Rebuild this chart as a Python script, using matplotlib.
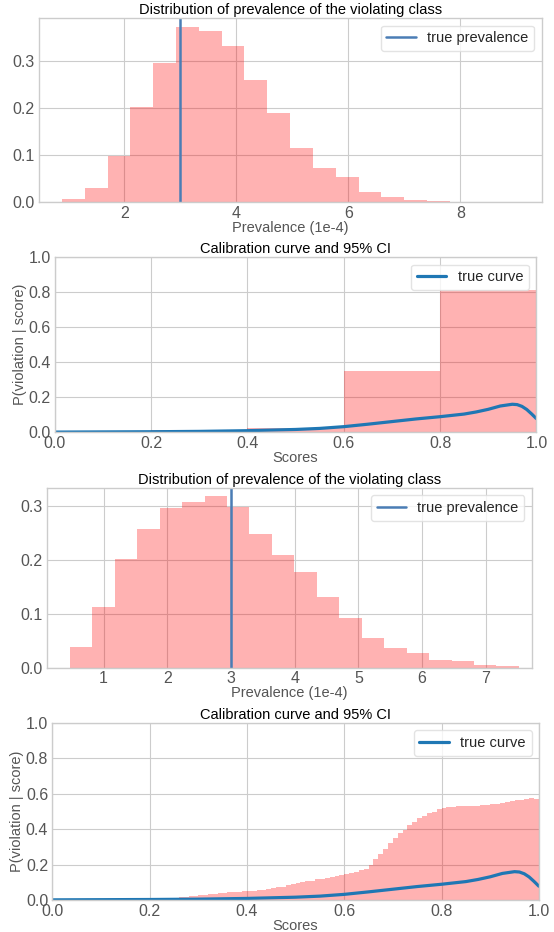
import numpy as np
import matplotlib
matplotlib.use("Agg")
import matplotlib.pyplot as plt


plt.style.use('seaborn-v0_8-whitegrid')
plt.rcParams['font.family'] = ['Liberation Sans', 'DejaVu Sans']
plt.rcParams['font.size'] = 10.5
plt.rcParams['legend.frameon'] = True


# Distribution of prevalence, first run (density per bin)
prev1_edges = np.linspace(0.883, 9.033, 21)
prev1_density = [0.007, 0.030, 0.099, 0.202, 0.297, 0.373, 0.365, 0.333, 0.260, 0.190,
                 0.116, 0.073, 0.054, 0.022, 0.011, 0.005, 0.003, 0.0015, 0.001, 0.0005]

# Distribution of prevalence, second run
prev2_edges = np.linspace(0.473, 7.517, 21)
prev2_density = [0.038, 0.113, 0.201, 0.257, 0.296, 0.307, 0.319, 0.298, 0.249, 0.209,
                 0.178, 0.132, 0.093, 0.056, 0.037, 0.027, 0.014, 0.012, 0.005, 0.003]

true_prevalence = 3.0

# Calibration CI, coarse bins
cal1_edges = [0.0, 0.2, 0.4, 0.6, 0.8, 1.0]
cal1_upper = [0.003, 0.013, 0.025, 0.349, 0.813]
cal1_lower = [0.0, 0.0, 0.0, 0.0, 0.0]

# Calibration CI, fine bins (0.01 wide)
cal2_edges = np.linspace(0.0, 1.0, 101)
cal2_upper = [
    0.0005, 0.0005, 0.0006, 0.0007, 0.0008, 0.0009, 0.001, 0.001, 0.0011, 0.0012,
    0.0013, 0.0014, 0.0015, 0.0016, 0.0018, 0.002, 0.0022, 0.0024, 0.0026, 0.003,
    0.004, 0.006, 0.008, 0.010, 0.012, 0.014, 0.016, 0.018, 0.020, 0.022,
    0.027, 0.030, 0.033, 0.036, 0.039, 0.041, 0.043, 0.045, 0.047, 0.049,
    0.051, 0.053, 0.056, 0.059, 0.062, 0.066, 0.071, 0.076, 0.082, 0.088,
    0.095, 0.100, 0.105, 0.110, 0.116, 0.121, 0.126, 0.131, 0.136, 0.141,
    0.147, 0.153, 0.160, 0.168, 0.176, 0.200, 0.229, 0.258, 0.286, 0.323,
    0.348, 0.376, 0.395, 0.423, 0.442, 0.461, 0.474, 0.489, 0.498, 0.513,
    0.521, 0.526, 0.526, 0.528, 0.530, 0.532, 0.532, 0.528, 0.534, 0.538,
    0.540, 0.542, 0.545, 0.552, 0.560, 0.564, 0.562, 0.572, 0.575, 0.572,
]
cal2_lower = [0.0] * 100

# True calibration curve
curve_x = [0.0, 0.1, 0.2, 0.3, 0.4, 0.5, 0.55, 0.6, 0.65, 0.7, 0.75, 0.8, 0.85,
           0.875, 0.9, 0.925, 0.95, 0.96, 0.97, 0.98, 0.99, 1.0]
curve_y = [0.001, 0.002, 0.003, 0.005, 0.009, 0.016, 0.022, 0.032, 0.046, 0.061, 0.076,
           0.089, 0.104, 0.116, 0.131, 0.150, 0.160, 0.158, 0.148, 0.130, 0.105, 0.078]

tick_gray = '#555555'
prev_color = '#4a7db5'
curve_color = '#1f77b4'


def style_axes(ax):
    ax.tick_params(colors=tick_gray, labelsize=11.5)
    ax.tick_params(axis='x', pad=2.5)
    ax.tick_params(axis='y', pad=3)
    for s in ax.spines.values():
        s.set_color('#cccccc')
        s.set_linewidth(1.0)
    ax.grid(True, color='#cccccc', linewidth=0.8)


def prevalence_panel(ax, edges, density, xlim, ylim, xticks):
    ax.hist(edges[:-1], bins=edges, weights=density, color='red', alpha=0.3)
    ax.axvline(true_prevalence, color=prev_color, linewidth=1.8, label='true prevalence')
    ax.set_xlim(*xlim)
    ax.set_ylim(*ylim)
    ax.set_xticks(xticks)
    ax.set_yticks([0.0, 0.1, 0.2, 0.3])
    ax.set_title('Distribution of prevalence of the violating class', fontsize=10.5,
                 color='black', pad=3)
    ax.set_xlabel('Prevalence (1e-4)', color=tick_gray, fontsize=10.5, labelpad=0)
    ax.legend(loc='upper right', fontsize=10.5, facecolor='white', edgecolor='#dddddd')
    style_axes(ax)


def calibration_panel(ax, edges, lower, upper):
    ax.fill_between(edges, np.append(lower, lower[-1]), np.append(upper, upper[-1]),
                    step='post', color='red', alpha=0.3, linewidth=0)
    ax.plot(curve_x, curve_y, color=curve_color, linewidth=2.3, label='true curve')
    ax.set_xlim(0, 1)
    ax.set_ylim(0, 1)
    ax.set_xticks(np.arange(0, 1.01, 0.2))
    ax.set_yticks(np.arange(0, 1.01, 0.2))
    ax.set_title('Calibration curve and 95% CI', fontsize=10.5, color='black', pad=3)
    ax.set_xlabel('Scores', color=tick_gray, fontsize=10.5, labelpad=0)
    ax.set_ylabel('P(violation | score)', color=tick_gray, fontsize=10.5, labelpad=1)
    ax.legend(loc='upper right', fontsize=10.5, facecolor='white', edgecolor='#dddddd')
    style_axes(ax)


fig = plt.figure(figsize=(5.54, 9.32), dpi=100)

ax1 = fig.add_axes([0.0702, 0.7829, 0.9076, 0.1975])
prevalence_panel(ax1, prev1_edges, prev1_density, (0.473, 9.45), (0, 0.391), [2, 4, 6, 8])

ax2 = fig.add_axes([0.0989, 0.5362, 0.8693, 0.1878])
calibration_panel(ax2, np.array(cal1_edges), cal1_lower, cal1_upper)

ax3 = fig.add_axes([0.0848, 0.2833, 0.8751, 0.1934])
prevalence_panel(ax3, prev2_edges, prev2_density, (0.113, 7.72), (0, 0.334), [1, 2, 3, 4, 5, 6, 7])

ax4 = fig.add_axes([0.0944, 0.0343, 0.8783, 0.1903])
calibration_panel(ax4, cal2_edges, cal2_lower, cal2_upper)

plt.savefig('out.png', dpi=100)
